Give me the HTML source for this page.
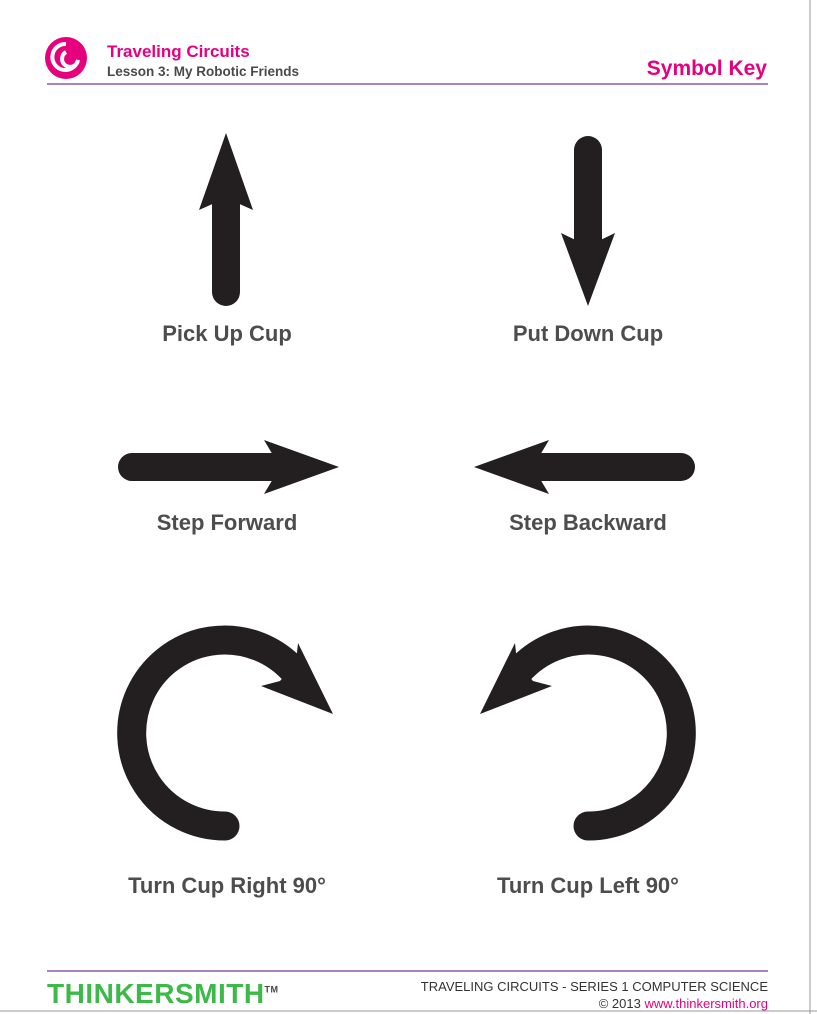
<!DOCTYPE html>
<html><head><meta charset="utf-8"><style>
body{margin:0;background:#fff;width:817px;height:1014px;overflow:hidden;position:relative;font-family:"Liberation Sans",sans-serif}
.t{position:absolute;font-weight:bold;color:#4a4a4a}
.lbl{position:absolute;font-weight:bold;color:#4d4d4d;font-size:22px;text-align:center;width:300px}
</style></head><body>
<svg width="817" height="1014" style="position:absolute;left:0;top:0">
 <g>
  <circle cx="66" cy="58" r="21" fill="#e6007e"/>
  <path d="M66 44 A13 13 0 1 0 78 60 A8 8 0 1 1 66 52" stroke="#fff" stroke-width="4" fill="none"/>
 </g>
 <line x1="47" y1="84" x2="768" y2="84" stroke="#8e5aa8" stroke-width="1.5"/>
 <line x1="47" y1="971" x2="768" y2="971" stroke="#8e5aa8" stroke-width="1.5"/>
 <line x1="810" y1="0" x2="810" y2="1014" stroke="#999" stroke-width="1"/>
 <line x1="0" y1="1011" x2="817" y2="1011" stroke="#999" stroke-width="1"/>
 <g fill="#231f20" stroke="#231f20">
  <g>
   <line x1="226" y1="292" x2="226" y2="200" stroke-width="28" stroke-linecap="round"/>
   <polygon points="226,133 253,210 226,198 199,210" stroke="none"/>
  </g>
  <g>
   <line x1="588" y1="150" x2="588" y2="242" stroke-width="28" stroke-linecap="round"/>
   <polygon points="588,306 615,233 588,246 561,233" stroke="none"/>
  </g>
  <g>
   <line x1="132" y1="467" x2="285" y2="467" stroke-width="28" stroke-linecap="round"/>
   <polygon points="339,467 264,440 280,467 264,494" stroke="none"/>
  </g>
  <g>
   <line x1="681" y1="467" x2="528" y2="467" stroke-width="28" stroke-linecap="round"/>
   <polygon points="474,467 549,440 533,467 549,494" stroke="none"/>
  </g>
  <g>
   <path d="M225 826 A93 93 0 1 1 294 671" fill="none" stroke-width="29" stroke-linecap="round"/>
   <polygon points="298,643 333,714 261,686 280,681 296,662" stroke="none"/>
  </g>
  <g>
   <path d="M588 826 A93 93 0 1 0 519 671" fill="none" stroke-width="29" stroke-linecap="round"/>
   <polygon points="515,643 480,714 552,686 533,681 517,662" stroke="none"/>
  </g>
 </g>
</svg>
<div class="t" style="left:107px;top:42px;font-size:17px;color:#e6007e">Traveling Circuits</div>
<div class="t" style="left:107px;top:64px;font-size:13.5px">Lesson 3: My Robotic Friends</div>
<div class="t" style="right:50px;top:57px;font-size:21px;color:#e6007e">Symbol Key</div>
<div class="lbl" style="left:77px;top:321px">Pick Up Cup</div>
<div class="lbl" style="left:438px;top:321px">Put Down Cup</div>
<div class="lbl" style="left:77px;top:510px">Step Forward</div>
<div class="lbl" style="left:438px;top:510px">Step Backward</div>
<div class="lbl" style="left:77px;top:873px">Turn Cup Right 90°</div>
<div class="lbl" style="left:438px;top:873px">Turn Cup Left 90°</div>
<div class="t" style="left:47px;top:978px;font-size:28px;color:#3db94a;letter-spacing:0.5px">THINKERSMITH<sup style="font-size:9px;color:#444">TM</sup></div>
<div style="position:absolute;right:49px;top:979px;font-size:13px;color:#333">TRAVELING CIRCUITS - SERIES 1 COMPUTER SCIENCE</div>
<div style="position:absolute;right:49px;top:996px;font-size:13px;color:#333">© 2013 <a style="color:#e6007e;text-decoration:none">www.thinkersmith.org</a></div>
</body></html>
